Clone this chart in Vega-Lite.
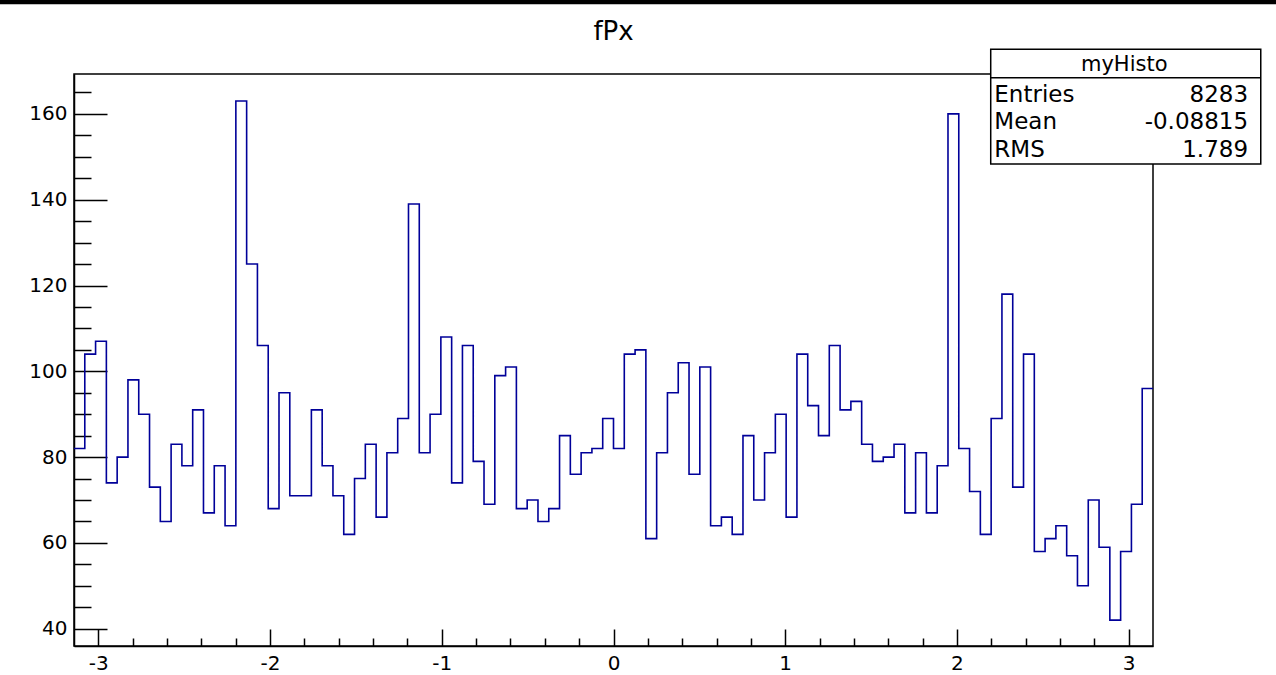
{
  "$schema": "https://vega.github.io/schema/vega-lite/v6.json",
  "width": 1079,
  "height": 572,
  "autosize": {"type": "none"},
  "padding": {"left": 74, "top": 74, "right": 123, "bottom": 29},
  "background": "white",
  "config": {
    "view": {"stroke": "black", "strokeWidth": 1.5},
    "font": "DejaVu Sans"
  },
  "title": {
    "text": "fPx",
    "fontSize": 26,
    "font": "DejaVu Sans",
    "fontWeight": "normal",
    "color": "black",
    "anchor": "middle",
    "frame": "group",
    "baseline": "alphabetic",
    "offset": -68
  },
  "datasets": {
    "hist": [
      {"x": -3.14159, "count": 82}, {"x": -3.07876, "count": 104}, {"x": -3.01593, "count": 107}, {"x": -2.95310, "count": 74}, {"x": -2.89027, "count": 80},
      {"x": -2.82743, "count": 98}, {"x": -2.76460, "count": 90}, {"x": -2.70177, "count": 73}, {"x": -2.63894, "count": 65}, {"x": -2.57611, "count": 83},
      {"x": -2.51327, "count": 78}, {"x": -2.45044, "count": 91}, {"x": -2.38761, "count": 67}, {"x": -2.32478, "count": 78}, {"x": -2.26195, "count": 64},
      {"x": -2.19911, "count": 163}, {"x": -2.13628, "count": 125}, {"x": -2.07345, "count": 106}, {"x": -2.01062, "count": 68}, {"x": -1.94779, "count": 95},
      {"x": -1.88496, "count": 71}, {"x": -1.82212, "count": 71}, {"x": -1.75929, "count": 91}, {"x": -1.69646, "count": 78}, {"x": -1.63363, "count": 71},
      {"x": -1.57080, "count": 62}, {"x": -1.50796, "count": 75}, {"x": -1.44513, "count": 83}, {"x": -1.38230, "count": 66}, {"x": -1.31947, "count": 81},
      {"x": -1.25664, "count": 89}, {"x": -1.19381, "count": 139}, {"x": -1.13097, "count": 81}, {"x": -1.06814, "count": 90}, {"x": -1.00531, "count": 108},
      {"x": -0.94248, "count": 74}, {"x": -0.87965, "count": 106}, {"x": -0.81681, "count": 79}, {"x": -0.75398, "count": 69}, {"x": -0.69115, "count": 99},
      {"x": -0.62832, "count": 101}, {"x": -0.56549, "count": 68}, {"x": -0.50265, "count": 70}, {"x": -0.43982, "count": 65}, {"x": -0.37699, "count": 68},
      {"x": -0.31416, "count": 85}, {"x": -0.25133, "count": 76}, {"x": -0.18850, "count": 81}, {"x": -0.12566, "count": 82}, {"x": -0.06283, "count": 89},
      {"x": 0.0, "count": 82}, {"x": 0.06283, "count": 104}, {"x": 0.12566, "count": 105}, {"x": 0.18850, "count": 61}, {"x": 0.25133, "count": 81},
      {"x": 0.31416, "count": 95}, {"x": 0.37699, "count": 102}, {"x": 0.43982, "count": 76}, {"x": 0.50265, "count": 101}, {"x": 0.56549, "count": 64},
      {"x": 0.62832, "count": 66}, {"x": 0.69115, "count": 62}, {"x": 0.75398, "count": 85}, {"x": 0.81681, "count": 70}, {"x": 0.87965, "count": 81},
      {"x": 0.94248, "count": 90}, {"x": 1.00531, "count": 66}, {"x": 1.06814, "count": 104}, {"x": 1.13097, "count": 92}, {"x": 1.19381, "count": 85},
      {"x": 1.25664, "count": 106}, {"x": 1.31947, "count": 91}, {"x": 1.38230, "count": 93}, {"x": 1.44513, "count": 83}, {"x": 1.50796, "count": 79},
      {"x": 1.57080, "count": 80}, {"x": 1.63363, "count": 83}, {"x": 1.69646, "count": 67}, {"x": 1.75929, "count": 81}, {"x": 1.82212, "count": 67},
      {"x": 1.88496, "count": 78}, {"x": 1.94779, "count": 160}, {"x": 2.01062, "count": 82}, {"x": 2.07345, "count": 72}, {"x": 2.13628, "count": 62},
      {"x": 2.19911, "count": 89}, {"x": 2.26195, "count": 118}, {"x": 2.32478, "count": 73}, {"x": 2.38761, "count": 104}, {"x": 2.45044, "count": 58},
      {"x": 2.51327, "count": 61}, {"x": 2.57611, "count": 64}, {"x": 2.63894, "count": 57}, {"x": 2.70177, "count": 50}, {"x": 2.76460, "count": 70},
      {"x": 2.82743, "count": 59}, {"x": 2.89027, "count": 42}, {"x": 2.95310, "count": 58}, {"x": 3.01593, "count": 69}, {"x": 3.07876, "count": 96},
      {"x": 3.14159, "count": 96}
    ],
    "stats": [
      {"stat": "title", "value": "myHisto"},
      {"stat": "Entries", "value": "8283"},
      {"stat": "Mean", "value": "-0.08815"},
      {"stat": "RMS", "value": "1.789"}
    ]
  },
  "layer": [
    {
      "data": {"name": "hist"},
      "mark": {"type": "line", "interpolate": "step-after", "color": "#000099", "strokeWidth": 1.6},
      "encoding": {
        "x": {
          "field": "x", "type": "quantitative",
          "scale": {"domain": [-3.14159, 3.14159], "nice": false, "zero": false},
          "axis": {
            "title": null,
            "grid": false,
            "tickCount": 200,
            "values": [-3, -2.8, -2.6, -2.4, -2.2, -2, -1.8, -1.6, -1.4, -1.2, -1, -0.8, -0.6, -0.4, -0.2, 0, 0.2, 0.4, 0.6, 0.8, 1, 1.2, 1.4, 1.6, 1.8, 2, 2.2, 2.4, 2.6, 2.8, 3],
            "domain": true, "domainColor": "black", "domainWidth": 1.5,
            "tickColor": "black", "tickWidth": 1.5,
            "tickSize": {"condition": {"test": "abs(datum.value - round(datum.value)) < 0.001", "value": -17}, "value": -8},
            "labelExpr": "abs(datum.value - round(datum.value)) < 0.001 ? toString(round(datum.value)) : ''",
            "labelFontSize": 20, "labelFont": "DejaVu Sans", "labelColor": "black",
            "labelPadding": 24, "labelFlush": false, "labelOverlap": false, "labelBound": false
          }
        },
        "y": {
          "field": "count", "type": "quantitative",
          "scale": {"domain": [35.97, 169.3], "nice": false, "zero": false},
          "axis": {
            "title": null,
            "grid": false,
            "tickCount": 200,
            "values": [40, 45, 50, 55, 60, 65, 70, 75, 80, 85, 90, 95, 100, 105, 110, 115, 120, 125, 130, 135, 140, 145, 150, 155, 160, 165],
            "domain": true, "domainColor": "black", "domainWidth": 1.5,
            "tickColor": "black", "tickWidth": 1.5,
            "tickSize": {"condition": {"test": "datum.value % 20 == 0", "value": -33}, "value": -17},
            "labelExpr": "datum.value % 20 == 0 ? toString(datum.value) : ''",
            "labelFontSize": 20, "labelFont": "DejaVu Sans", "labelColor": "black",
            "labelPadding": 40, "labelFlush": false, "labelOverlap": false, "labelBound": false
          }
        }
      }
    },
    {
      "data": {"name": "stats"},
      "transform": [{"filter": "datum.stat == 'title'"}],
      "mark": {"type": "rect", "fill": "white", "stroke": "black", "strokeWidth": 1.5},
      "encoding": {
        "x": {"datum": 2.1966, "type": "quantitative"},
        "x2": {"datum": 3.7691},
        "y": {"datum": 175.06, "type": "quantitative"},
        "y2": {"datum": 148.32}
      }
    },
    {
      "data": {"name": "stats"},
      "transform": [{"filter": "datum.stat == 'title'"}],
      "mark": {"type": "rule", "color": "black", "strokeWidth": 1.5},
      "encoding": {
        "x": {"datum": 2.1966, "type": "quantitative"},
        "x2": {"datum": 3.7691},
        "y": {"datum": 168.44, "type": "quantitative"}
      }
    },
    {
      "data": {"name": "stats"},
      "transform": [{"filter": "datum.stat == 'title'"}],
      "mark": {"type": "text", "align": "center", "baseline": "alphabetic", "fontSize": 21, "font": "DejaVu Sans", "color": "black"},
      "encoding": {
        "x": {"datum": 2.9741, "type": "quantitative"},
        "y": {"datum": 170.0, "type": "quantitative"},
        "text": {"field": "value"}
      }
    },
    {
      "data": {"name": "stats"},
      "transform": [{"filter": "datum.stat == 'Entries'"}],
      "layer": [
        {"mark": {"type": "text", "align": "left", "baseline": "alphabetic", "fontSize": 23, "font": "DejaVu Sans", "color": "black"},
         "encoding": {"x": {"datum": 2.2175, "type": "quantitative"}, "y": {"datum": 162.70, "type": "quantitative"}, "text": {"field": "stat"}}},
        {"mark": {"type": "text", "align": "right", "baseline": "alphabetic", "fontSize": 23, "font": "DejaVu Sans", "color": "black"},
         "encoding": {"x": {"datum": 3.6951, "type": "quantitative"}, "y": {"datum": 162.70, "type": "quantitative"}, "text": {"field": "value"}}}
      ]
    },
    {
      "data": {"name": "stats"},
      "transform": [{"filter": "datum.stat == 'Mean'"}],
      "layer": [
        {"mark": {"type": "text", "align": "left", "baseline": "alphabetic", "fontSize": 23, "font": "DejaVu Sans", "color": "black"},
         "encoding": {"x": {"datum": 2.2175, "type": "quantitative"}, "y": {"datum": 156.41, "type": "quantitative"}, "text": {"field": "stat"}}},
        {"mark": {"type": "text", "align": "right", "baseline": "alphabetic", "fontSize": 23, "font": "DejaVu Sans", "color": "black"},
         "encoding": {"x": {"datum": 3.6951, "type": "quantitative"}, "y": {"datum": 156.41, "type": "quantitative"}, "text": {"field": "value"}}}
      ]
    },
    {
      "data": {"name": "stats"},
      "transform": [{"filter": "datum.stat == 'RMS'"}],
      "layer": [
        {"mark": {"type": "text", "align": "left", "baseline": "alphabetic", "fontSize": 23, "font": "DejaVu Sans", "color": "black"},
         "encoding": {"x": {"datum": 2.2175, "type": "quantitative"}, "y": {"datum": 150.02, "type": "quantitative"}, "text": {"field": "stat"}}},
        {"mark": {"type": "text", "align": "right", "baseline": "alphabetic", "fontSize": 23, "font": "DejaVu Sans", "color": "black"},
         "encoding": {"x": {"datum": 3.6951, "type": "quantitative"}, "y": {"datum": 150.02, "type": "quantitative"}, "text": {"field": "value"}}}
      ]
    },
    {
      "data": {"name": "stats"},
      "transform": [{"filter": "datum.stat == 'title'"}],
      "mark": {"type": "rect", "fill": "black"},
      "encoding": {
        "x": {"datum": -3.7, "type": "quantitative"},
        "x2": {"datum": 4.0},
        "y": {"datum": 187.0, "type": "quantitative"},
        "y2": {"datum": 185.55}
      }
    }
  ]
}
